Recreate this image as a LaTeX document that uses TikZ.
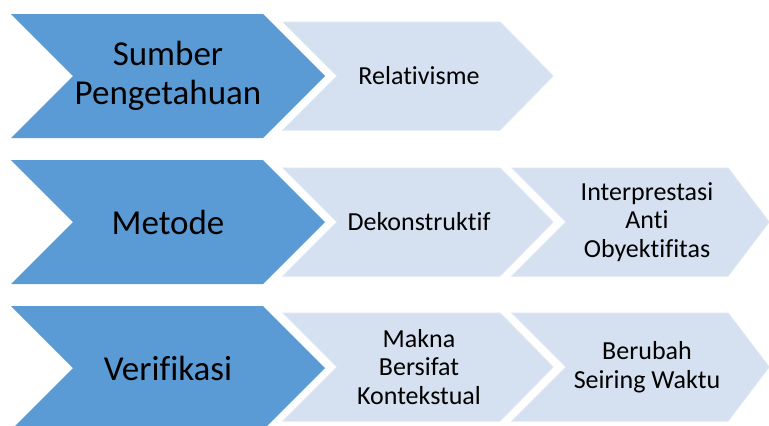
\documentclass[tikz,border=0pt]{standalone}
\usepackage{fontspec}
\setmainfont{Carlito}[Ligatures=NoCommon]
\usetikzlibrary{positioning}

\definecolor{darkblue}{HTML}{5B9BD5}
\definecolor{paleblue}{HTML}{D5E1F0}
\definecolor{paleedge}{HTML}{DCE6F2}

\tikzset{
	mainchev/.style={fill=darkblue},
	subchev/.style={fill=paleblue, draw=paleedge, line width=1pt},
	maintext/.style={align=center, font=\fontsize{35}{39}\selectfont},
	subtext/.style={align=center, font=\fontsize{26}{28.5}\selectfont}
}

\begin{document}
\begin{tikzpicture}[x=1pt,y=-1pt]
	\clip (0,0) rectangle (769,426);
	\fill[white] (0,0) rectangle (769,426);

	% dark chevrons
	\fill[mainchev] (11,14) -- (263,14) -- (325,76) -- (263,138) -- (11,138) -- (73,76) -- cycle;
	\fill[mainchev] (11,160) -- (263,160) -- (325,222) -- (263,284) -- (11,284) -- (73,222) -- cycle;
	\fill[mainchev] (11,306) -- (263,306) -- (325,368) -- (263,430) -- (11,430) -- (73,368) -- cycle;

	% light chevrons
	\filldraw[subchev] (283,22) -- (500,22) -- (553,76) -- (500,130) -- (283,130) -- (337,76) -- cycle;
	\filldraw[subchev] (283,168) -- (500,168) -- (553,222) -- (500,276) -- (283,276) -- (337,222) -- cycle;
	\filldraw[subchev] (512,168) -- (728,168) -- (769,222) -- (728,276) -- (512,276) -- (566,222) -- cycle;
	\filldraw[subchev] (283,313) -- (500,313) -- (553,367) -- (500,421) -- (283,421) -- (337,367) -- cycle;
	\filldraw[subchev] (512,313) -- (728,313) -- (769,367) -- (728,421) -- (512,421) -- (566,367) -- cycle;

	\node[maintext] (sumber)    at (168,76)  {Sumber\\Pengetahuan};
	\node[maintext] (metode)    at (168,222) {Metode};
	\node[maintext] (verifikasi) at (168,368) {Verifikasi};

	\node[subtext] (relativ)  at (419,76)  {Relativisme};
	\node[subtext] (dekon)    at (419,222) {Dekonstruktif};
	\node[subtext] (interp)   at (647,222) {Interprestasi\\Anti\\Obyektifitas};
	\node[subtext] (makna)    at (419,367) {Makna\\Bersifat\\Kontekstual};
	\node[subtext] (berubah)  at (647,367) {Berubah\\Seiring Waktu};
\end{tikzpicture}
\end{document}
